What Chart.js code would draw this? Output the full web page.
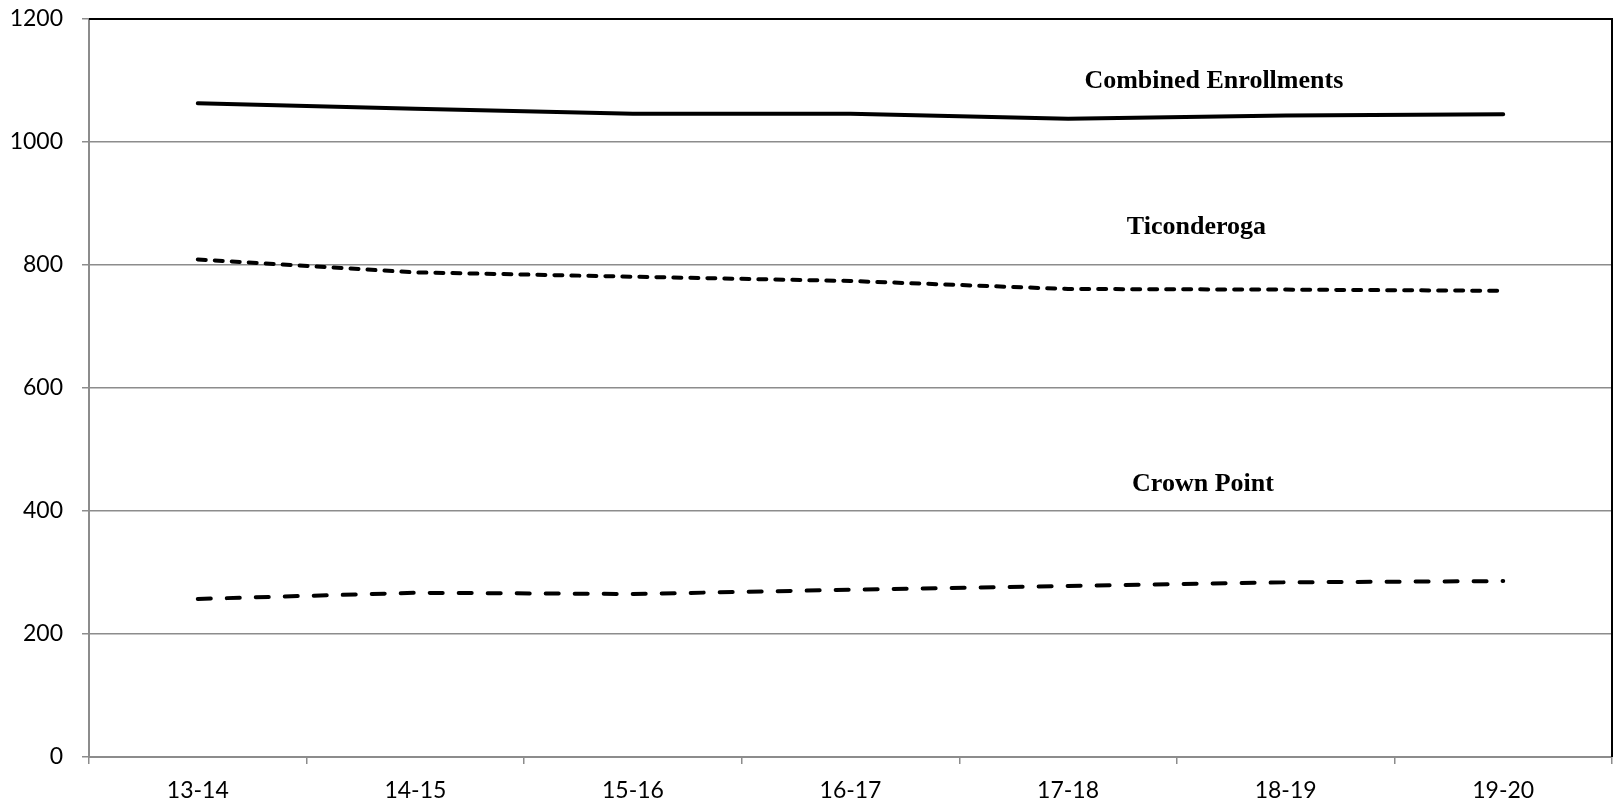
<!DOCTYPE html>
<html>
<head>
<meta charset="utf-8">
<script src="https://cdn.jsdelivr.net/npm/chart.js@4"></script>
<style>
  html, body { margin: 0; padding: 0; background: #fff; }
  #wrap { width: 1614px; height: 808px; }
</style>
</head>
<body>
<div id="wrap"><canvas id="enrollChart"></canvas></div>
<script>
const years = ['13-14', '14-15', '15-16', '16-17', '17-18', '18-19', '19-20'];
const combined = [1063, 1054, 1046, 1046, 1038, 1043, 1045];
const ticonderoga = [809, 788, 781, 774, 761, 760, 758];
const crownPoint = [257, 267, 265, 272, 278, 284, 286];

// series captions placed inside the plot (x = category index, y = value)
const captionText = ['Combined Enrollments', 'Ticonderoga', 'Crown Point'];
const captionX = [4.67, 4.59, 4.62];
const captionY = [1098, 862, 444];

const gridGray = '#8c8c8c';

// draws the captions plus the black top/right border of the plot box
const annotate = {
    id: 'annotate',
    afterDatasetsDraw(chart) {
        const c = chart.ctx, a = chart.chartArea;
        const x = chart.scales.x, y = chart.scales.y;
        c.save();
        c.strokeStyle = '#000';
        c.lineWidth = 2;
        c.beginPath();
        c.moveTo(a.left, a.top);
        c.lineTo(a.right, a.top);
        c.lineTo(a.right, a.bottom);
        c.stroke();
        c.fillStyle = '#000';
        c.font = 'bold 26px "Liberation Serif"';
        c.textAlign = 'center';
        c.textBaseline = 'middle';
        captionText.forEach((t, i) => {
            const px = x.getPixelForValue(0) + captionX[i] * (x.getPixelForValue(1) - x.getPixelForValue(0));
            c.fillText(t, px, y.getPixelForValue(captionY[i]));
        });
        c.restore();
    }
};

const ctx = document.getElementById('enrollChart').getContext('2d');

new Chart(ctx, {
    type: 'line',
    data: {
        labels: years,
        datasets: [
            {
                label: 'Combined Enrollments',
                data: combined,
                borderColor: '#000',
                borderWidth: 4,
                borderCapStyle: 'round',
                pointRadius: 0,
                tension: 0
            },
            {
                label: 'Ticonderoga',
                data: ticonderoga,
                borderColor: '#000',
                borderWidth: 4,
                borderDash: [8, 9],
                borderCapStyle: 'round',
                pointRadius: 0,
                tension: 0
            },
            {
                label: 'Crown Point',
                data: crownPoint,
                borderColor: '#000',
                borderWidth: 4,
                borderDash: [13, 16],
                borderCapStyle: 'round',
                pointRadius: 0,
                tension: 0
            }
        ]
    },
    options: {
        responsive: true,
        maintainAspectRatio: false,
        animation: false,
        layout: { padding: { top: 19, right: 2, left: 0, bottom: 0 } },
        plugins: {
            legend: { display: false },
            tooltip: { enabled: false }
        },
        scales: {
            x: {
                offset: true,
                afterFit: s => { s.height = 51; s.paddingLeft = 0; s.paddingRight = 0; },
                grid: {
                    offset: true,
                    drawOnChartArea: false,
                    drawTicks: true,
                    tickLength: 7,
                    color: gridGray,
                    lineWidth: 1.5
                },
                border: { color: gridGray, width: 2 },
                ticks: {
                    color: '#000',
                    padding: 13,
                    maxRotation: 0,
                    font: { family: 'Lato', size: 23 }
                }
            },
            y: {
                min: 0,
                max: 1200,
                afterFit: s => { s.width = 89; s.paddingTop = 0; s.paddingBottom = 0; },
                grid: {
                    color: gridGray,
                    lineWidth: 1.5,
                    tickLength: 7
                },
                border: { color: gridGray, width: 2 },
                ticks: {
                    stepSize: 200,
                    color: '#000',
                    padding: 19,
                    font: { family: 'Lato', size: 23 },
                    callback: v => String(v)
                }
            }
        }
    },
    plugins: [annotate]
});
</script>
</body>
</html>
